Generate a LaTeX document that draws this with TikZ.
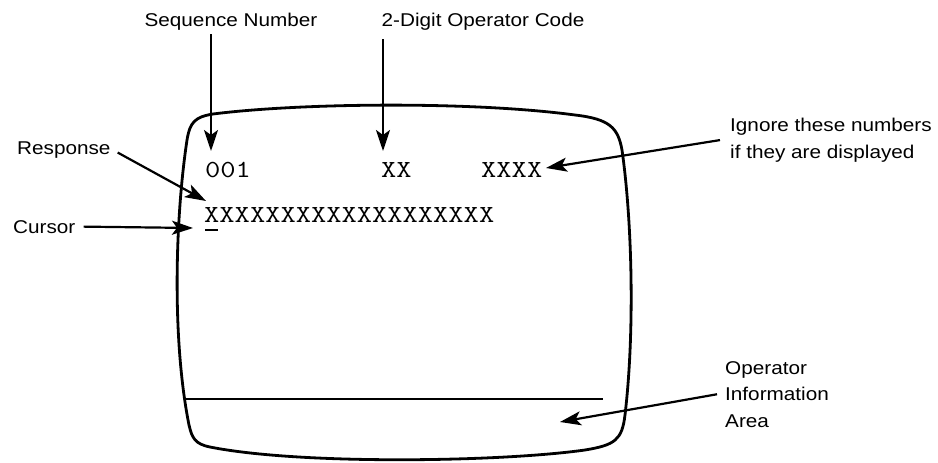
\documentclass[tikz,border=0pt]{standalone}
\usepackage{fontspec}
\setmainfont{Liberation Sans}[FakeStretch=1.12]
\usetikzlibrary{arrows.meta}
\newcommand{\scrtext}[1]{{\ttfamily\fontsize{24.5}{24.5}\selectfont\scalebox{1.21}[1]{#1}}}
\tikzset{
  lbl/.style={inner sep=0pt, font=\fontsize{18.5}{26.5}\selectfont, align=left},
  scr/.style={inner sep=0pt, anchor=base west},
  arr/.style={line width=2.2pt, -{Stealth[length=21pt,width=14pt,inset=5pt]}},
  outline/.style={line width=2.8pt, line join=round},
}
\begin{document}
\begin{tikzpicture}[x=1pt,y=-1pt]
\useasboundingbox (0,0) rectangle (938,463);
% screen outline
\draw[outline] (213,114) .. controls (300,103) and (470,101) .. (575,115)
  .. controls (610,119) and (618,128) .. (622,150)
  .. controls (632,220) and (635,330) .. (625,415)
  .. controls (622,440) and (615,445) .. (585,450)
  .. controls (500,462) and (300,465) .. (210,447)
  .. controls (195,444) and (192,438) .. (189,425)
  .. controls (172,340) and (175,220) .. (187,140)
  .. controls (190,122) and (195,117) .. (213,114) -- cycle;
% separator line of operator information area
\coordinate (sepL) at (186,399);
\coordinate (sepR) at (603,399);
\draw[line width=1.6pt] (sepL) -- (sepR);
% screen texts
\node[scr] (seqno) at (205,177) {\scrtext{001}};
\node[scr] (opcode) at (381,177) {\scrtext{XX}};
\node[scr] (ignum) at (481,177) {\scrtext{XXXX}};
\node[scr] (resp) at (204,222) {\scrtext{XXXXXXXXXXXXXXXXXXX}};
\coordinate (curL) at (205,230);
\coordinate (curR) at (218,230);
\draw[line width=1.8pt] (curL) -- (curR);
% labels
\node[lbl, anchor=base] (lseq) at (231,27) {Sequence Number};
\node[lbl, anchor=base] (lcode) at (483,27) {2-Digit Operator Code};
\node[lbl, anchor=base west] (lresp) at (17,154) {Response};
\node[lbl, anchor=base west] (lcur) at (13,233) {Cursor};
\node[lbl, anchor=north west] (lign) at (730,118) {Ignore these numbers\\if they are displayed};
\node[lbl, anchor=north west] (lop) at (725,361) {Operator\\Information\\Area};
% arrow ends
\coordinate (tseq) at (211,151);
\coordinate (tcode) at (383,151);
\coordinate (tign) at (546,168);
\coordinate (tresp) at (206,201);
\coordinate (tcur) at (193,228);
\coordinate (top) at (560,422);
% arrows
\draw[arr] ([yshift=-3pt]lseq.south -| tseq) -- (tseq);
\draw[arr] ([yshift=-8pt]lcode.south -| tcode) -- (tcode);
\draw[arr] ([xshift=-10pt]lign.west) -- (tign);
\draw[arr] ([xshift=7pt,yshift=-3pt]lresp.east) -- (tresp);
\draw[arr] ([xshift=8pt]lcur.east) -- (tcur);
\draw[arr] ([xshift=-8pt]lop.west) -- (top);
\end{tikzpicture}
\end{document}
